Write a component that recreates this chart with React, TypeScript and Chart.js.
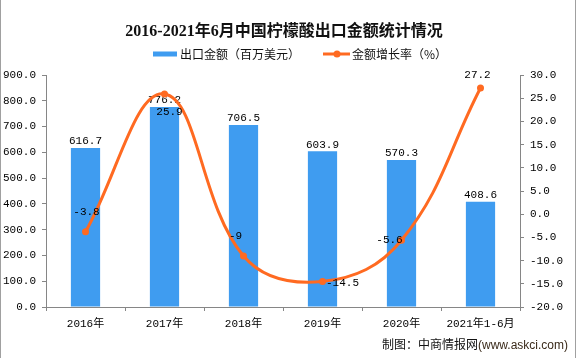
import { useEffect, useRef } from "react";
import { Chart, registerables } from "chart.js";

Chart.register(...registerables);

const TITLE = "2016-2021年6月中国柠檬酸出口金额统计情况";
const CATEGORIES = ["2016年", "2017年", "2018年", "2019年", "2020年", "2021年1-6月"];
const EXPORT_VALUES = [616.7, 776.2, 706.5, 603.9, 570.3, 408.6];
const GROWTH_RATES = [-3.8, 25.9, -9, -14.5, -5.6, 27.2];
const BAR_SERIES_NAME = "出口金额（百万美元）";
const LINE_SERIES_NAME = "金额增长率（%）";
const LEFT_TICKS = [0, 100, 200, 300, 400, 500, 600, 700, 800, 900];
const RIGHT_TICKS = [-20, -15, -10, -5, 0, 5, 10, 15, 20, 25, 30];
const SOURCE_MAIN = "制图：中商情报网";
const SOURCE_URL = "(www.askci.com)";

// label placement offsets for the growth-rate labels (style only)
const GROWTH_LABEL_OFFSETS: [number, number][] = [
  [1, -20],
  [5, 18],
  [-8, -20],
  [20, 2],
  [-12, 0],
  [-3, -13],
];

const BLUE = "#3f9cf0";
const ORANGE = "#ff6a21";
const AXIS_COLOR = "#868686";
const NUM_FONT = '"Liberation Mono", "Noto Sans CJK SC", monospace';
const CJK_FONT = '"Noto Sans CJK SC", "Noto Sans", sans-serif';

const fmt = (v: number) => (Number.isInteger(v) ? String(v) : v.toFixed(1));

const overlayPlugin = {
  id: "overlay",
  afterDatasetDraw(chart: any, args: any) {
    if (args.index !== 0) return;
    const ctx = chart.ctx;
    const meta = chart.getDatasetMeta(0);
    ctx.save();
    ctx.font = `11px ${NUM_FONT}`;
    ctx.fillStyle = "#000";
    ctx.textAlign = "center";
    ctx.textBaseline = "bottom";
    meta.data.forEach((el: any, i: number) => {
      ctx.fillText(EXPORT_VALUES[i].toFixed(1), el.x, el.y - 1);
    });
    ctx.restore();
  },
  afterDraw(chart: any) {
    const ctx = chart.ctx;
    ctx.save();
    // line labels
    const meta = chart.getDatasetMeta(1);
    ctx.font = `11px ${NUM_FONT}`;
    ctx.fillStyle = "#000";
    ctx.textAlign = "center";
    ctx.textBaseline = "middle";
    meta.data.forEach((el: any, i: number) => {
      const [dx, dy] = GROWTH_LABEL_OFFSETS[i];
      ctx.fillText(fmt(GROWTH_RATES[i]), el.x + dx, el.y + dy);
    });
    // title
    ctx.font = `bold 16px "Liberation Serif", ${CJK_FONT}`;
    ctx.fillStyle = "#111";
    ctx.textAlign = "center";
    ctx.textBaseline = "middle";
    ctx.fillText(TITLE, 284, 32);
    // legend
    ctx.fillStyle = BLUE;
    ctx.fillRect(153, 51.5, 24, 5);
    ctx.font = `12px ${CJK_FONT}`;
    ctx.fillStyle = "#111";
    ctx.textAlign = "left";
    ctx.fillText(BAR_SERIES_NAME, 180, 54);
    ctx.strokeStyle = ORANGE;
    ctx.lineWidth = 3;
    ctx.beginPath();
    ctx.moveTo(323, 54);
    ctx.lineTo(350, 54);
    ctx.stroke();
    ctx.fillStyle = ORANGE;
    ctx.beginPath();
    ctx.arc(337, 54, 3.5, 0, Math.PI * 2);
    ctx.fill();
    ctx.fillStyle = "#111";
    ctx.fillText(LINE_SERIES_NAME, 352, 54);
    ctx.restore();
  },
};

export default function App() {
  const ref = useRef<HTMLCanvasElement | null>(null);
  useEffect(() => {
    if (!ref.current) return;
    const chart = new Chart(ref.current, {
      type: "bar",
      data: {
        labels: CATEGORIES,
        datasets: [
          {
            type: "bar",
            label: BAR_SERIES_NAME,
            data: EXPORT_VALUES,
            backgroundColor: BLUE,
            yAxisID: "y",
            barPercentage: 0.37,
            categoryPercentage: 1,
            order: 1,
          },
          {
            type: "line",
            label: LINE_SERIES_NAME,
            data: GROWTH_RATES,
            borderColor: ORANGE,
            backgroundColor: ORANGE,
            borderWidth: 3,
            pointRadius: 3.5,
            pointBorderWidth: 0,
            pointBackgroundColor: ORANGE,
            tension: 0.4,
            yAxisID: "y1",
            order: 0,
          },
        ],
      } as any,
      options: {
        animation: false,
        responsive: false,
        maintainAspectRatio: false,
        layout: { padding: { top: 75, left: 0, right: 0, bottom: 0 } },
        plugins: {
          legend: { display: false },
          title: { display: false },
          tooltip: { enabled: false },
        },
        scales: {
          x: {
            offset: true,
            afterFit: (s: any) => {
              s.height = 51;
            },
            grid: {
              offset: true,
              drawOnChartArea: false,
              drawTicks: true,
              tickLength: 4,
              color: AXIS_COLOR,
            },
            border: { display: true, color: AXIS_COLOR },
            ticks: {
              color: "#000",
              padding: 6,
              maxRotation: 0,
              autoSkip: false,
              font: { family: NUM_FONT, size: 11 },
            },
          },
          y: {
            position: "left",
            min: LEFT_TICKS[0],
            max: LEFT_TICKS[LEFT_TICKS.length - 1],
            afterFit: (s: any) => {
              s.width = 46;
            },
            afterBuildTicks: (s: any) => {
              s.ticks = LEFT_TICKS.map((v) => ({ value: v }));
            },
            grid: {
              drawOnChartArea: false,
              drawTicks: true,
              tickLength: 4,
              color: AXIS_COLOR,
            },
            border: { display: true, color: AXIS_COLOR },
            ticks: {
              color: "#000",
              padding: 6,
              font: { family: NUM_FONT, size: 11 },
              callback: (v: any) => Number(v).toFixed(1),
            },
          },
          y1: {
            position: "right",
            min: RIGHT_TICKS[0],
            max: RIGHT_TICKS[RIGHT_TICKS.length - 1],
            afterFit: (s: any) => {
              s.width = 56;
            },
            afterBuildTicks: (s: any) => {
              s.ticks = RIGHT_TICKS.map((v) => ({ value: v }));
            },
            grid: {
              drawOnChartArea: false,
              drawTicks: true,
              tickLength: 4,
              color: AXIS_COLOR,
            },
            border: { display: true, color: AXIS_COLOR },
            ticks: {
              color: "#000",
              padding: 6,
              font: { family: NUM_FONT, size: 11 },
              callback: (v: any) => Number(v).toFixed(1),
            },
          },
        },
      } as any,
      plugins: [overlayPlugin],
    });
    return () => chart.destroy();
  }, []);

  return (
    <div
      style={{
        position: "fixed",
        left: 0,
        top: 0,
        width: 576,
        height: 358,
        background: "#fff",
        overflow: "hidden",
      }}
    >
      <canvas ref={ref} width={576} height={358} style={{ position: "absolute", left: 0, top: 0 }} />
      <div
        style={{
          position: "absolute",
          left: 0,
          top: 0,
          width: 576,
          height: 358,
          boxSizing: "border-box",
          borderLeft: "1px solid #a0a0a0",
          borderRight: "1px solid #a0a0a0",
          pointerEvents: "none",
        }}
      />
      <div
        style={{
          position: "absolute",
          right: 8,
          top: 334,
          lineHeight: "16px",
          whiteSpace: "nowrap",
          fontFamily: CJK_FONT,
          color: "#111",
        }}
      >
        <span style={{ fontSize: 12 }}>{SOURCE_MAIN}</span>
        <span style={{ fontSize: 12, fontFamily: '"Liberation Sans", Arial, sans-serif', color: "#3a2a1a" }}>
          {SOURCE_URL}
        </span>
      </div>
    </div>
  );
}
